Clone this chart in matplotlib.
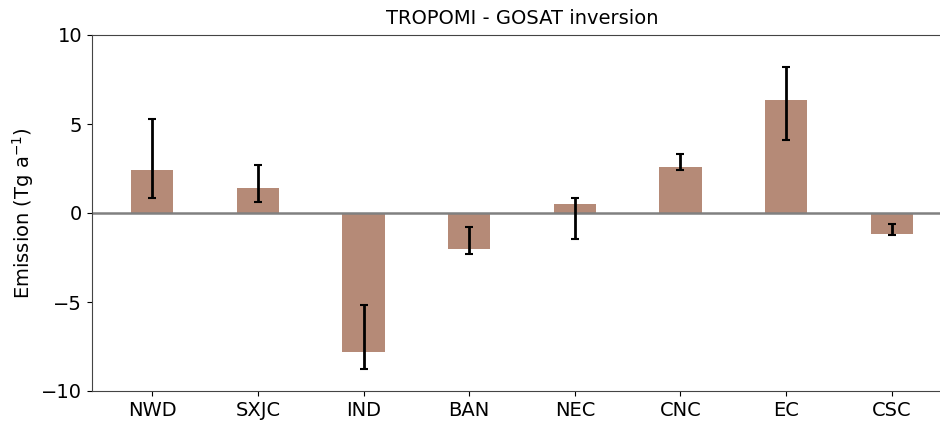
import matplotlib
matplotlib.use('Agg')
import matplotlib.pyplot as plt
import numpy as np

# Regions and posterior emission difference (TROPOMI - GOSAT)
regions = ['NWD', 'SXJC', 'IND', 'BAN', 'NEC', 'CNC', 'EC', 'CSC']
emission = [2.42, 1.42, -7.81, -2.04, 0.51, 2.57, 6.37, -1.18]
err_low = [0.82, 0.60, -8.78, -2.30, -1.48, 2.43, 4.08, -1.22]
err_high = [5.26, 2.68, -5.17, -0.79, 0.84, 3.30, 8.18, -0.63]

emission = np.array(emission)
yerr = [emission - np.array(err_low), np.array(err_high) - emission]

plt.rcParams['font.size'] = 14

fig = plt.figure(figsize=(9.4, 4.25), dpi=100)
ax = fig.add_axes([92 / 940, 1 - 391 / 425, 860 / 940, 356 / 425])

x = np.arange(len(regions))
ax.bar(x, emission, width=0.4, color='#b58a77')
ax.errorbar(x, emission, yerr=yerr, fmt='none', ecolor='black',
            elinewidth=2, capsize=3, capthick=1.5)
ax.axhline(0, color='gray', lw=1.8, zorder=1.5)

ax.set_ylim(-10, 10)
ax.set_yticks([-10, -5, 0, 5, 10])
ax.set_xticks(x)
ax.set_xticklabels(regions)
ax.set_ylabel('Emission (Tg a$^{-1}$)')
ax.set_title('TROPOMI - GOSAT inversion', fontsize=14, pad=8)

for s in ax.spines.values():
    s.set_color('#444444')

fig.savefig('out.png', dpi=100)
